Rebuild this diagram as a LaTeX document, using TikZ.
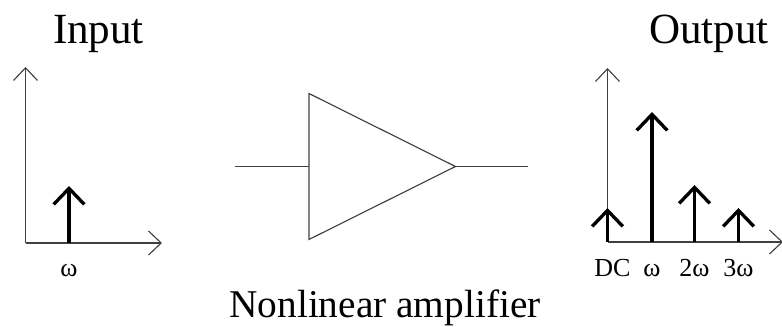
\documentclass[tikz,border=0pt]{standalone}
\usepackage{fontspec}
\setmainfont{Liberation Serif}
\usetikzlibrary{arrows.meta, positioning, shapes.geometric}
\tikzset{
  axis/.style={draw=black!75, line width=0.85pt, -{Straight Barb[length=9.5pt, width=18pt, line width=0.85pt]}},
  stem/.style={draw=black, line width=2.5pt, -{Straight Barb[length=12pt, width=23pt, line width=2.5pt]}},
  wire/.style={draw=black!75, line width=0.85pt},
  amp/.style={draw=black!75, line width=0.85pt, isosceles triangle, isosceles triangle stretches,
    minimum height=109.9pt, minimum width=109.5pt, inner sep=0pt, outer sep=0pt},
  title/.style={font=\fontsize{32.3}{36}\selectfont, inner sep=0pt, anchor=base},
  caption/.style={font=\fontsize{29.5}{34}\selectfont, inner sep=0pt, anchor=base},
  freq/.style={font=\fontsize{19.5}{22}\selectfont, inner sep=0pt, anchor=base},
}

\begin{document}
\begin{tikzpicture}[x=0.75pt, y=-0.75pt]
    \useasboundingbox (0,0) rectangle (782,327);
    % input spectrum
    \node[title] (input) at (98.5,44) {Input};
    \coordinate (inO) at (25.5,243);
    \coordinate (inY) at (25.5,67);
    \coordinate (inX) at (162,243);
    \coordinate (inB) at (69,243);
    \coordinate (inT) at (69,186);
    \draw[axis] (inO) -- (inY);
    \draw[axis] (inO) -- (inX);
    \draw[stem] (inB) -- (inT);
    \node[freq] (inw) at (69,277) {ω};
    % amplifier
    \node[amp, anchor=apex] (tri) at (455.5,166.5) {};
    \coordinate (ampin) at (235,166.5);
    \coordinate (ampout) at (528,166.5);
    \draw[wire] (ampin) -- (tri.lower side);
    \draw[wire] (tri.apex) -- (ampout);
    \node[caption] (name) at (385,318) {Nonlinear amplifier};
    % output spectrum
    \node[title] (output) at (709,44) {Output};
    \coordinate (outO) at (607.5,242);
    \coordinate (outY) at (607.5,68);
    \coordinate (outX) at (783,242);
    \coordinate (dcT) at (607.5,208);
    \coordinate (w1B) at (652,242);
    \coordinate (w1T) at (652,112);
    \coordinate (w2B) at (694.5,242);
    \coordinate (w2T) at (694.5,185);
    \coordinate (w3B) at (738.5,242);
    \coordinate (w3T) at (738.5,208);
    \draw[axis] (outO) -- (outY);
    \draw[axis] (outO) -- (outX);
    \draw[stem] (outO) -- (dcT);
    \draw[stem] (w1B) -- (w1T);
    \draw[stem] (w2B) -- (w2T);
    \draw[stem] (w3B) -- (w3T);
    \node[freq] (dc) at (612.5,277) {DC};
    \node[freq] (w1) at (652,277) {ω};
    \node[freq] (w2) at (694.5,277) {2ω};
    \node[freq] (w3) at (738.5,277) {3ω};
\end{tikzpicture}
\end{document}
